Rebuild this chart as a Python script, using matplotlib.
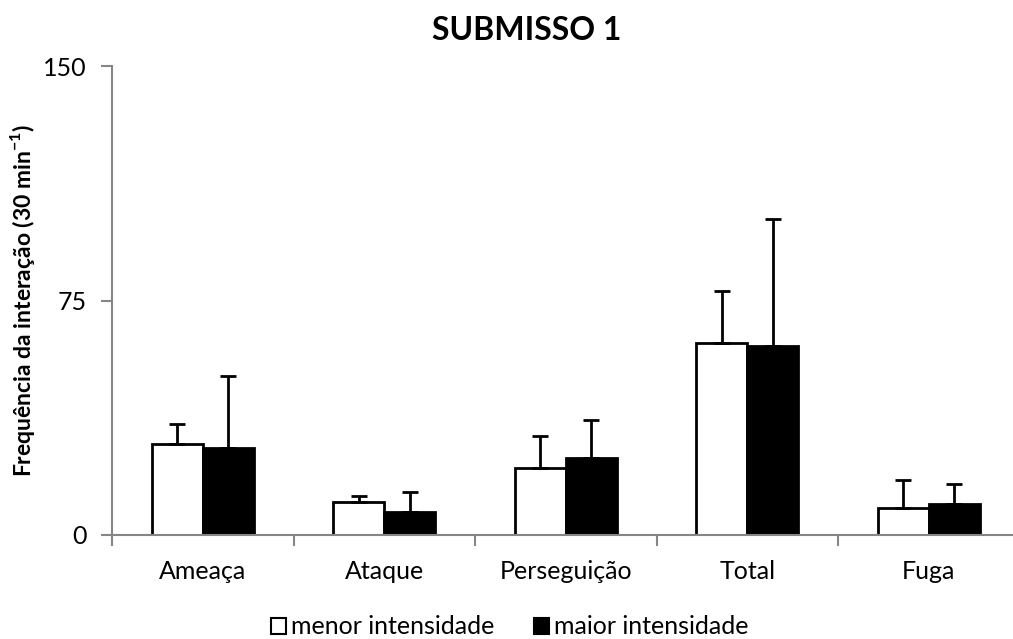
import numpy as np
import matplotlib
matplotlib.use("Agg")
import matplotlib.pyplot as plt
from matplotlib.patches import Patch

plt.rcParams['font.family'] = ['Lato', 'DejaVu Sans']

# dados
categorias = ['Ameaça', 'Ataque', 'Perseguição', 'Total', 'Fuga']
menor = [29.1, 10.6, 21.4, 61.4, 8.6]
menor_dp = [6.4, 1.9, 10.3, 16.6, 9.0]
maior = [27.8, 7.4, 24.6, 60.4, 9.9]
maior_dp = [23.0, 6.4, 12.2, 40.6, 6.4]

x = np.arange(len(categorias))
w = 0.28
cinza = '#868686'

fig = plt.figure(figsize=(10.13, 6.39), dpi=100)
ax = fig.add_axes([112 / 1013, 104 / 639, 901 / 1013, 469 / 639])

err_kw = dict(ecolor='black', elinewidth=2, capsize=6, capthick=2)
ax.bar(x - w / 2, menor, w, color='white', edgecolor='black', linewidth=2,
       yerr=[np.zeros(len(x)), menor_dp], error_kw=err_kw, zorder=2)
ax.bar(x + w / 2, maior, w, color='black', edgecolor='black', linewidth=2,
       yerr=[np.zeros(len(x)), maior_dp], error_kw=err_kw, zorder=2)

ax.set_ylim(0, 150)
ax.set_xlim(-0.5, -0.5 + 901 / 181.5)
ax.set_yticks([0, 75, 150])
ax.set_xticks(x)
ax.set_xticklabels(categorias)
ax.set_xticks(np.arange(len(x)) - 0.5, minor=True)

for s in ['top', 'right']:
    ax.spines[s].set_visible(False)
for s in ['left', 'bottom']:
    ax.spines[s].set_color(cinza)
    ax.spines[s].set_linewidth(1.5)
    ax.spines[s].set_zorder(3)

ax.tick_params(axis='y', colors=cinza, length=8, width=1.5, labelsize=18,
               labelcolor='black', pad=10)
ax.tick_params(axis='x', which='major', length=0, labelsize=18, pad=18)
ax.tick_params(axis='x', which='minor', colors=cinza, length=8, width=1.5)

ax.set_ylabel('Frequência da interação (30 min$^{\\mathregular{-1}}$)',
              fontsize=16.5, fontweight='bold')
ax.yaxis.set_label_coords(-0.083, 0.5)

fig.text(527 / 1013, 1 - 30 / 639, 'SUBMISSO 1', fontsize=23,
         fontweight='bold', ha='center', va='center')

handles = [Patch(facecolor='white', edgecolor='black', linewidth=1.5),
           Patch(facecolor='black', edgecolor='black', linewidth=1.5)]
fig.legend(handles, ['menor intensidade', 'maior intensidade'],
           loc='center', bbox_to_anchor=(510 / 1013, 1 - 627 / 639), ncol=2,
           frameon=False, fontsize=18, handlelength=0.6, handleheight=0.6,
           handletextpad=0.2, columnspacing=1.6, borderpad=0)

fig.savefig('out.png', dpi=100)
